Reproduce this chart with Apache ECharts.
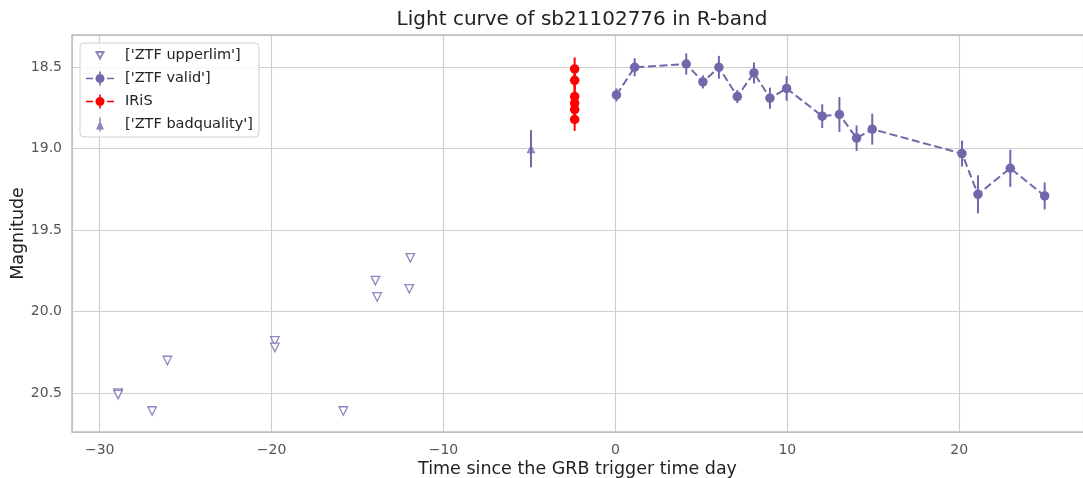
<!DOCTYPE html>
<html lang="en">
<head>
    <meta charset="UTF-8"/>
    <title>light curve</title>
    <script src="https://cdn.jsdelivr.net/npm/echarts@6/dist/echarts.min.js"></script>
</head>
<body style="margin:0">
<div id="main" style="width:1083px;height:478px;"></div>

<script type="text/javascript">
    // upper limits (hollow down triangles)
    var ulX = [-28.93, -28.93, -26.95, -26.06, -19.81, -19.81, -15.83, -13.96, -13.86, -11.93, -11.99];
    var ulY = [20.50, 20.51, 20.61, 20.30, 20.18, 20.22, 20.61, 19.81, 19.91, 19.67, 19.86];

    // ZTF valid detections
    var validX = [0.06, 1.12, 4.12, 5.09, 6.02, 7.09, 8.06, 8.99, 9.96, 12.03, 13.03, 14.03, 14.94, 20.16, 21.09, 22.97, 24.97];
    var validY = [18.67, 18.50, 18.48, 18.59, 18.50, 18.68, 18.535, 18.69, 18.63, 18.80, 18.79, 18.935, 18.88, 19.03, 19.28, 19.12, 19.29];
    var validErr = [0.04, 0.055, 0.065, 0.04, 0.07, 0.04, 0.065, 0.065, 0.075, 0.073, 0.107, 0.078, 0.095, 0.08, 0.117, 0.114, 0.083];

    // IRiS
    var irisX = [-2.37, -2.37, -2.37, -2.37, -2.37, -2.37];
    var irisY = [18.51, 18.58, 18.68, 18.72, 18.76, 18.82];
    var irisErr = [0.07, 0.07, 0.07, 0.07, 0.07, 0.07];

    // ZTF bad quality
    var badX = [-4.91];
    var badY = [19.0];
    var badErr = [0.114];

    var purple = '#7566ab';
    var red = '#ff0000';
    var font = 'DejaVu Sans';
    var spine = {show: true, onZero: false, lineStyle: {color: '#bdbdbd', width: 1.5}};

    // legend icons, drawn in a 28x14 box (leading moves pin the bounding box)
    // all sub-paths wound clockwise so overlaps stay filled
    var box = 'M0,0 M28,14 ';
    var iconUpper = box + 'M10.5,4 L17.5,4 L14,10.5 Z';
    var iconErrLine = box + 'M0,6.2 L7,6.2 L7,7.8 L0,7.8 Z M21,6.2 L28,6.2 L28,7.8 L21,7.8 Z ' +
        'M9.5,7 A4.5,4.5 0 1,1 18.5,7 A4.5,4.5 0 1,1 9.5,7 Z M13.2,0 L14.8,0 L14.8,14 L13.2,14 Z';
    var iconBad = box + 'M14,3 L18,12 L10,12 Z M13.25,0 L14.75,0 L14.75,14 L13.25,14 Z';

    function pts(xs, ys) {
        return xs.map(function (x, i) { return [x, ys[i]]; });
    }
    function errs(xs, ys, es) {
        return xs.map(function (x, i) { return [x, ys[i], es[i]]; });
    }
    function errorBars(data, color) {
        return {
            type: 'custom',
            silent: true,
            z: 1,
            data: data,
            renderItem: function (params, api) {
                var x = api.value(0), y = api.value(1), e = api.value(2);
                var p1 = api.coord([x, y - e]);
                var p2 = api.coord([x, y + e]);
                return {
                    type: 'line',
                    shape: {x1: p1[0], y1: p1[1], x2: p2[0], y2: p2[1]},
                    style: {stroke: color, lineWidth: 2}
                };
            }
        };
    }
    function fmtNum(v) {
        return String(v).replace('-', '\u2212');
    }

    var myChart = echarts.init(document.getElementById('main'));
    var option = {
        animation: false,
        backgroundColor: '#ffffff',
        title: {
            text: 'Light curve of sb21102776 in R-band',
            left: 577,
            textAlign: 'center',
            top: 5,
            textStyle: {fontFamily: font, fontSize: 20, fontWeight: 'normal', color: '#222'}
        },
        legend: {
            orient: 'vertical',
            left: 80,
            top: 43,
            padding: [4, 6, 5, 5],
            itemGap: 8,
            itemWidth: 28,
            itemHeight: 14,
            borderColor: '#d0d0d0',
            borderWidth: 1,
            borderRadius: 4,
            backgroundColor: 'rgba(255,255,255,0.8)',
            textStyle: {fontFamily: font, fontSize: 14.5, color: '#222', padding: [0, 0, 0, 6]},
            data: [
                {name: "['ZTF upperlim']", icon: 'path://' + iconUpper},
                {name: "['ZTF valid']", icon: 'path://' + iconErrLine},
                {name: 'IRiS', icon: 'path://' + iconErrLine},
                {name: "['ZTF badquality']", icon: 'path://' + iconBad}
            ]
        },
        grid: {
            left: 72, right: 0, top: 35, bottom: 46,
            outerBoundsMode: 'none'
        },
        xAxis: [
            {
                type: 'value',
                min: -31.61,
                max: 27.2,
                splitNumber: 6,
                name: 'Time since the GRB trigger time day',
                nameLocation: 'middle',
                nameGap: 28,
                nameMoveOverlap: false,
                nameTextStyle: {fontFamily: font, fontSize: 17.5, color: '#222'},
                axisLine: spine,
                axisTick: {show: false},
                axisLabel: {
                    fontFamily: font, fontSize: 14, color: '#555', margin: 11,
                    showMinLabel: false, showMaxLabel: false,
                    formatter: fmtNum
                },
                splitLine: {show: true, lineStyle: {color: '#cfcfcf', width: 1.2}}
            },
            {
                // top spine only
                type: 'value',
                position: 'top',
                min: -31.61,
                max: 27.2,
                axisLine: spine,
                axisTick: {show: false},
                axisLabel: {show: false},
                splitLine: {show: false}
            }
        ],
        yAxis: {
            type: 'value',
            inverse: true,
            min: 18.302,
            max: 20.739,
            name: 'Magnitude',
            nameLocation: 'middle',
            nameGap: 45,
            nameMoveOverlap: false,
            nameTextStyle: {fontFamily: font, fontSize: 17.5, color: '#222'},
            axisLine: spine,
            axisTick: {show: false},
            axisLabel: {
                fontFamily: font, fontSize: 14, color: '#555', margin: 10,
                showMinLabel: false, showMaxLabel: false,
                formatter: function (v) { return v.toFixed(1); }
            },
            splitLine: {show: true, lineStyle: {color: '#cfcfcf', width: 1.2}}
        },
        series: [
            {
                name: "['ZTF upperlim']",
                type: 'scatter',
                symbol: 'triangle',
                symbolRotate: 180,
                symbolSize: 8.5,
                z: 3,
                itemStyle: {color: '#ffffff', borderColor: purple, borderWidth: 1.3},
                data: pts(ulX, ulY)
            },
            {
                name: "['ZTF valid']",
                type: 'line',
                symbol: 'circle',
                symbolSize: 9.5,
                z: 3,
                itemStyle: {color: purple},
                lineStyle: {color: purple, type: [8, 3.6], width: 2},
                data: pts(validX, validY)
            },
            {
                name: 'IRiS',
                type: 'line',
                symbol: 'circle',
                symbolSize: 9.5,
                z: 4,
                itemStyle: {color: red},
                lineStyle: {color: red, type: [8, 3.6], width: 2},
                data: pts(irisX, irisY)
            },
            {
                name: "['ZTF badquality']",
                type: 'scatter',
                symbol: 'triangle',
                symbolSize: 9,
                z: 3,
                itemStyle: {color: purple},
                data: pts(badX, badY)
            },
            errorBars(errs(validX, validY, validErr), purple),
            errorBars(errs(irisX, irisY, irisErr), red),
            errorBars(errs(badX, badY, badErr), purple)
        ]
    };
    myChart.setOption(option);
</script>
</body>
</html>
